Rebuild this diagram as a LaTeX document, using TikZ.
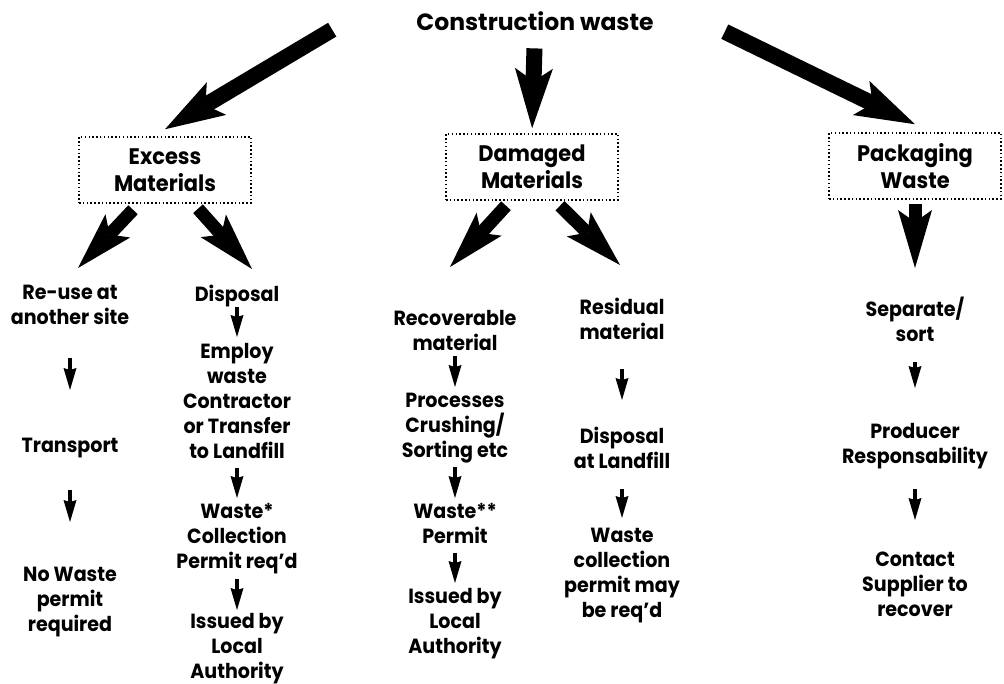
\documentclass[tikz,border=0pt]{standalone}
\usepackage{fontspec}
\setmainfont{Poppins}[FakeStretch=0.93]
\newfontfamily\titlefont{Poppins}
\usetikzlibrary{arrows.meta,calc}
\tikzset{
  txt/.style={font=\bfseries\fontsize{20.5}{25}\selectfont, align=center, inner sep=0pt, anchor=north},
  box/.style={draw, dash pattern=on 1.5pt off 2.3pt, line width=1.5pt, font=\bfseries\fontsize{22.5}{27}\selectfont, align=center, minimum width=172pt, minimum height=66pt, inner sep=0pt},
  bigarr/.style={line width=16pt, -{Stealth[length=60pt,width=38pt,inset=13pt,line width=0pt]}},
  midarr/.style={line width=13pt, -{Stealth[length=58pt,width=34pt,inset=12pt,line width=0pt]}},
  sarr/.style={line width=4.5pt, -{Stealth[length=22pt,width=13pt,inset=2pt,line width=0pt]}},
}
\begin{document}
\begin{tikzpicture}[x=1pt,y=-1pt]
\useasboundingbox (0,0) rectangle (1004,684);
% title and the three kinds of waste
\node[txt, font=\titlefont\bfseries\fontsize{23.5}{25}\selectfont] (title) at (535,11) {Construction waste};
\node[box] (excess) at (165,170) {Excess\\Materials};
\node[box] (damaged) at (532,167) {Damaged\\Materials};
\node[box] (packaging) at (915,166) {Packaging\\Waste};
\draw[bigarr] ($(title.west)+(-84,9)$) -- ($(excess.north)+(0,-7)$);
\draw[bigarr, shorten <=18pt, shorten >=5pt] (title.south) -- (damaged.north);
\draw[bigarr] ($(title.east)+(71,11)$) -- ($(packaging.north)+(0,-8)$);
% excess materials
\node[txt] (reuse) at (70,285) {Re-use at\\another site};
\node[txt] (transport) at (70,438) {Transport};
\node[txt] (noperm) at (70,567) {No Waste\\permit\\required};
\node[txt] (disposal) at (237,285) {Disposal};
\node[txt] (employ) at (237,343) {Employ\\waste\\Contractor\\or Transfer\\to Landfill};
\node[txt] (permit1) at (237,503) {Waste*\\Collection\\Permit req’d};
\node[txt] (issued1) at (237,613) {Issued by\\Local\\Authority};
\draw[midarr] ($(excess.south)+(-32,6)$) -- ($(reuse.north)+(8,-17)$);
\draw[midarr] ($(excess.south)+(33,5)$) -- ($(disposal.north)+(15,-16)$);
\draw[sarr, shorten <=33pt, shorten >=48pt] (reuse.south) -- (transport.north);
\draw[sarr, shorten <=32pt, shorten >=45pt] (transport.south) -- (noperm.north);
\draw[sarr, shorten >=6pt] (disposal.south) -- (employ.north);
\draw[sarr, shorten <=9pt, shorten >=5pt] (employ.south) -- (permit1.north);
\draw[sarr, shorten <=5pt, shorten >=3pt] (permit1.south) -- (issued1.north);
% damaged materials
\node[txt] (recov) at (455,310) {Recoverable\\material};
\node[txt] (process) at (455,393) {Processes\\Crushing/\\Sorting etc};
\node[txt] (permit2) at (455,503) {Waste**\\Permit};
\node[txt] (issued2) at (455,588) {Issued by\\Local\\Authority};
\node[txt] (resid) at (622,298) {Residual\\material};
\node[txt] (landfill) at (622,427) {Disposal\\at Landfill};
\node[txt] (collect) at (622,528) {Waste\\collection\\permit may\\be req’d};
\draw[midarr] ($(damaged.south)+(-26,5)$) -- ($(recov.north)+(-5,-43)$);
\draw[midarr] ($(damaged.south)+(28,5)$) -- ($(resid.north)+(-2,-33)$);
\draw[sarr, shorten <=5pt, shorten >=6pt] (recov.south) -- (process.north);
\draw[sarr, shorten <=4pt, shorten >=5pt] (process.south) -- (permit2.north);
\draw[sarr, shorten <=9pt, shorten >=5pt] (permit2.south) -- (issued2.north);
\draw[sarr, shorten <=29pt, shorten >=27pt] (resid.south) -- (landfill.north);
\draw[sarr, shorten <=20pt, shorten >=10pt] (landfill.south) -- (collect.north);
% packaging waste
\node[txt] (sort) at (915,297) {Separate/\\sort};
\node[txt] (producer) at (915,423) {Producer\\Responsability};
\node[txt] (supplier) at (915,552) {Contact\\Supplier to\\recover};
\draw[midarr, shorten <=4pt, shorten >=29pt] (packaging.south) -- (sort.north);
\draw[sarr, shorten <=20pt, shorten >=35pt] (sort.south) -- (producer.north);
\draw[sarr, shorten <=20pt, shorten >=32pt] (producer.south) -- (supplier.north);
\end{tikzpicture}
\end{document}
